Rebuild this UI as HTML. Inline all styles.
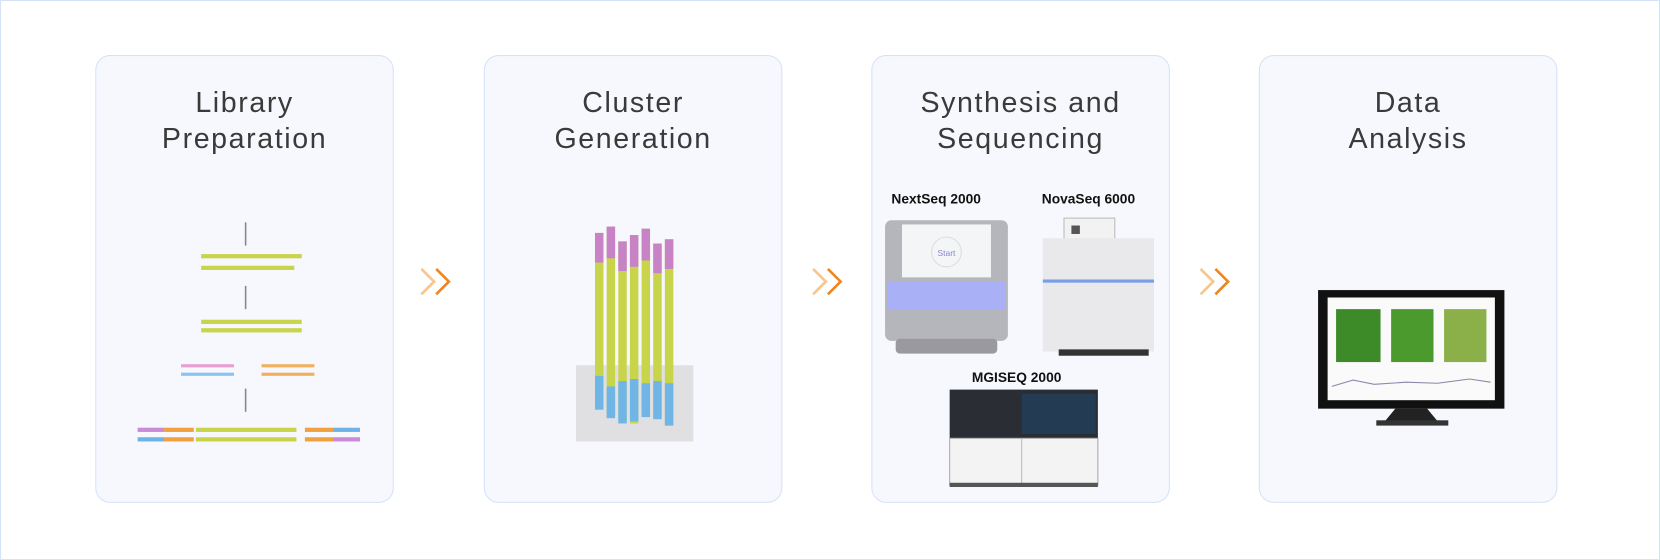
<!DOCTYPE html>
<html><head><meta charset="utf-8"><style>
html,body{margin:0;padding:0;background:#fff;}
#wrap{width:1568px;height:529px;transform:scale(1.0587);transform-origin:0 0;position:relative;font-family:"Liberation Sans",sans-serif;}
.outer{position:absolute;left:0;top:0;width:1566px;height:527px;border:1px solid #d5e3f7;}
.card{position:absolute;top:52px;width:280px;height:421px;border:1px solid #d5e3f7;border-radius:14px;background:#f7f8fd;}
.t{position:absolute;top:80px;width:282px;text-align:center;font-size:27px;line-height:34px;color:#3a3a3a;letter-spacing:1.5px;}
.ab{position:absolute;}
.lbl{position:absolute;font-weight:bold;font-size:13px;color:#111;}
</style></head><body><div id="wrap">
<div class="outer"></div>
<div class="card" style="left:90px"></div>
<div class="card" style="left:457px"></div>
<div class="card" style="left:823px"></div>
<div class="card" style="left:1189px"></div>
<div class="t" style="left:90px">Library<br>Preparation</div>
<div class="t" style="left:457px">Cluster<br>Generation</div>
<div class="t" style="left:823px">Synthesis and<br>Sequencing</div>
<div class="t" style="left:1189px">Data<br>Analysis</div>

<svg class="ab" style="left:0;top:0" width="1568" height="529">
<g fill="none" stroke-width="2.5">
<path d="M398 254 l12 12 l-12 12" stroke="#f9c58c"/><path d="M412 254 l12 12 l-12 12" stroke="#f0861e"/>
<path d="M768 254 l12 12 l-12 12" stroke="#f9c58c"/><path d="M782 254 l12 12 l-12 12" stroke="#f0861e"/>
<path d="M1134 254 l12 12 l-12 12" stroke="#f9c58c"/><path d="M1148 254 l12 12 l-12 12" stroke="#f0861e"/>
</g>
<g stroke="#888" stroke-width="1.5"><line x1="232" y1="210" x2="232" y2="232"/><line x1="232" y1="270" x2="232" y2="292"/><line x1="232" y1="367" x2="232" y2="389"/></g>
<g fill="#c8d44a"><rect x="190" y="240" width="95" height="4"/><rect x="190" y="251" width="88" height="4"/><rect x="190" y="302" width="95" height="4"/><rect x="190" y="310" width="95" height="4"/>
<rect x="185" y="404" width="95" height="4"/><rect x="185" y="413" width="95" height="4"/></g>
<rect x="171" y="344" width="50" height="3" fill="#e79fd0"/><rect x="171" y="352" width="50" height="3" fill="#8ac4ec"/>
<rect x="247" y="344" width="50" height="3" fill="#f0b060"/><rect x="247" y="352" width="50" height="3" fill="#f0b060"/>
<rect x="130" y="404" width="25" height="4" fill="#c98ad6"/><rect x="155" y="404" width="28" height="4" fill="#f0a040"/>
<rect x="130" y="413" width="25" height="4" fill="#6fb2e8"/><rect x="155" y="413" width="28" height="4" fill="#f0a040"/>
<rect x="288" y="404" width="27" height="4" fill="#f0a040"/><rect x="315" y="404" width="25" height="4" fill="#6fb2e8"/>
<rect x="288" y="413" width="27" height="4" fill="#f0a040"/><rect x="315" y="413" width="25" height="4" fill="#c98ad6"/>
<rect x="544" y="345" width="111" height="72" fill="#e0e0e2"/>
<g fill="#c8d44a">
<rect x="562" y="220" width="8" height="160"/><rect x="573" y="214" width="8" height="180"/><rect x="584" y="228" width="8" height="170"/><rect x="595" y="222" width="8" height="178"/><rect x="606" y="216" width="8" height="176"/><rect x="617" y="230" width="8" height="164"/><rect x="628" y="226" width="8" height="176"/>
</g>
<g fill="#c883c6"><rect x="562" y="220" width="8" height="28"/><rect x="573" y="214" width="8" height="30"/><rect x="584" y="228" width="8" height="28"/><rect x="595" y="222" width="8" height="30"/><rect x="606" y="216" width="8" height="30"/><rect x="617" y="230" width="8" height="28"/><rect x="628" y="226" width="8" height="28"/></g>
<g fill="#6fb6e6"><rect x="562" y="355" width="8" height="32"/><rect x="573" y="365" width="8" height="30"/><rect x="584" y="360" width="8" height="40"/><rect x="595" y="358" width="8" height="40"/><rect x="606" y="362" width="8" height="32"/><rect x="617" y="360" width="8" height="36"/><rect x="628" y="362" width="8" height="40"/></g>
<rect x="836" y="208" width="116" height="114" rx="6" fill="#b4b6bb"/>
<rect x="852" y="212" width="84" height="50" fill="#f4f5f7"/>
<circle cx="894" cy="238" r="14" fill="none" stroke="#ddd"/>
<text x="894" y="242" font-size="8" fill="#8888cc" text-anchor="middle" font-family="Liberation Sans">Start</text>
<rect x="838" y="266" width="112" height="26" fill="#a9b0f5"/>
<rect x="846" y="320" width="96" height="14" rx="4" fill="#9a9a9e"/>
<rect x="1005" y="206" width="48" height="28" fill="#f2f2f2" stroke="#bbb"/>
<rect x="1012" y="213" width="8" height="8" fill="#555"/>
<rect x="985" y="225" width="105" height="107" fill="#e9e9eb"/>
<rect x="985" y="264" width="105" height="3" fill="#7a9ee8"/>
<rect x="1000" y="330" width="85" height="6" fill="#333"/>
<rect x="897" y="368" width="140" height="46" fill="#2a2d33"/>
<rect x="965" y="372" width="70" height="38" fill="#233c54"/>
<rect x="897" y="414" width="140" height="44" fill="#f3f3f3" stroke="#aaa"/>
<line x1="965" y1="414" x2="965" y2="458" stroke="#bbb"/>
<rect x="897" y="456" width="140" height="4" fill="#555"/>
<rect x="1245" y="274" width="176" height="112" fill="#111"/>
<rect x="1254" y="281" width="158" height="97" fill="#fafafa"/>
<rect x="1262" y="292" width="42" height="50" fill="#3c8a28"/><rect x="1314" y="292" width="40" height="50" fill="#4a9a2e"/><rect x="1364" y="292" width="40" height="50" fill="#8bb04a"/>
<path d="M1258 365 l20 -6 l20 4 l30 -2 l30 1 l30 -4 l20 3" stroke="#88a" fill="none"/>
<path d="M1318 386 h30 l10 12 h-50 z" fill="#222"/>
<rect x="1300" y="397" width="68" height="5" fill="#333"/>
</svg>
<div class="lbl" style="left:842px;top:180px">NextSeq 2000</div>
<div class="lbl" style="left:984px;top:180px">NovaSeq 6000</div>
<div class="lbl" style="left:918px;top:349px">MGISEQ 2000</div>
</div></body></html>
